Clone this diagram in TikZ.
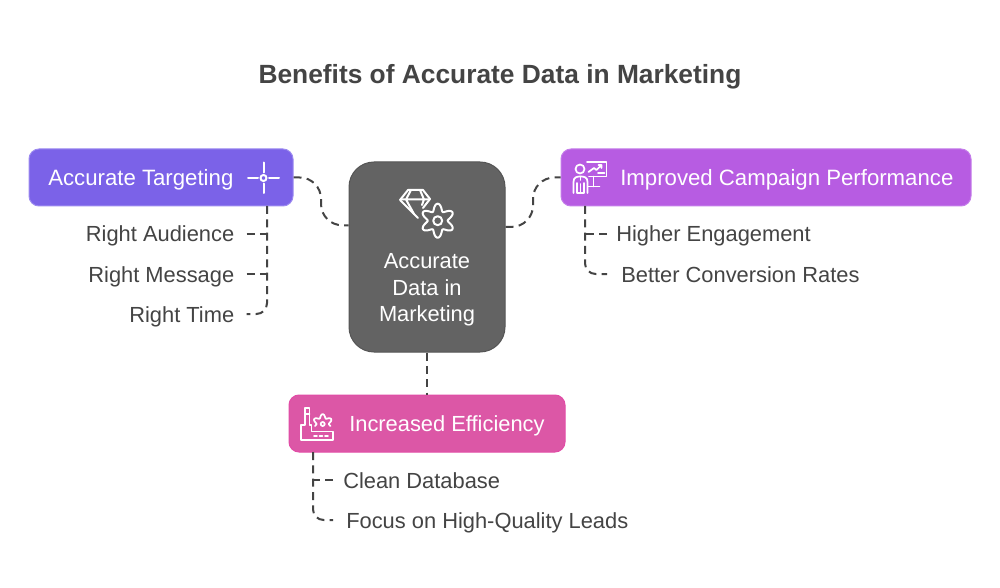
\documentclass[tikz,border=0pt]{standalone}
\usepackage{fontspec}
\setmainfont{Liberation Sans}
\usetikzlibrary{calc}
\definecolor{ink}{HTML}{444444}
\definecolor{cA}{HTML}{7B62E8}
\definecolor{cAb}{HTML}{9C8AF0}
\definecolor{cB}{HTML}{B75CE2}
\definecolor{cBb}{HTML}{C47DEA}
\definecolor{cC}{HTML}{DC57A6}
\definecolor{cCb}{HTML}{E24CA6}
\definecolor{cM}{HTML}{636363}
\definecolor{cMb}{HTML}{555555}
\tikzset{
  box/.style={draw=#1b,fill=#1,line width=0.75pt,rounded corners=7.5pt,minimum height=42.75pt,inner sep=0pt},
  mid/.style={draw=cMb,fill=cM,line width=0.75pt,rounded corners=18.75pt,minimum width=117pt,minimum height=142.5pt,inner sep=0pt},
  txt/.style={font=\fontsize{16.4pt}{20pt}\selectfont,text height=15.5pt,text depth=3.5pt,inner ysep=0pt,inner xsep=0pt},
  boxtext/.style={txt,text=white,anchor=west},
  widetext/.style={boxtext,font=\fontsize{16.65pt}{20pt}\selectfont},
  leftlabel/.style={txt,text=ink,anchor=east,inner xsep=#1},
  rightlabel/.style={txt,text=ink,anchor=west,inner xsep=#1},
  midtext/.style={font=\fontsize{16.4pt}{20pt}\selectfont,text=white,align=center,inner sep=0pt},
  title/.style={font=\bfseries\fontsize{19.75pt}{24pt}\selectfont,text=ink,inner sep=0pt},
  link/.style={draw=ink,line width=1.5pt,dash pattern=on 6pt off 4pt},
  curve/.style={link,rounded corners=16pt},
  turn/.style={link,rounded corners=8pt},
  icon/.style={draw=white,line width=1.5pt,line cap=round,line join=round},
  thinicon/.style={icon,line width=1.3pt},
}
\begin{document}
\begin{tikzpicture}[x=0.75pt,y=-0.75pt]
\useasboundingbox (0,0) rectangle (1000,588);
\fill[white] (0,0) rectangle (1000,588);

\node[title] (t) at (500,76.5) {Benefits of Accurate Data in Marketing};

\node[box=cA,minimum width=198pt] (a) at (161,177.5) {};
\node[box=cB,minimum width=307.5pt] (b) at (766,177.5) {};
\node[box=cC,minimum width=207pt] (c) at (427,423.5) {};
\node[mid] (m) at (427,257) {};

\node[widetext] (at) at (48,177.5) {Accurate Targeting};
\node[widetext] (bt) at (620,177.5) {Improved Campaign Performance};
\node[boxtext] (ct) at (349,423.5) {Increased Efficiency};
\node[midtext] (mt) at (427,290) {Accurate\\Data in\\Marketing};

\node[leftlabel=9pt] (a1) at (246.5,234) {Right Audience};
\node[leftlabel=9pt] (a2) at (246.5,274) {Right Message};
\node[leftlabel=9pt] (a3) at (246.5,314) {Right Time};
\node[rightlabel=6.75pt] (b1) at (607,234) {Higher Engagement};
\node[rightlabel=10.5pt] (b2) at (607,274) {Better Conversion Rates};
\node[rightlabel=7.5pt] (c1) at (333,480) {Clean Database};
\node[rightlabel=9.75pt] (c2) at (333,520) {Focus on High-Quality Leads};

\coordinate (atop) at (267,206);
\coordinate (btop) at (585,206);
\coordinate (ctop) at (313,452);
\coordinate (lbend) at ($(a.east)!0.5!(m.158.3)$);
\coordinate (rbend) at ($(m.21.7)!0.5!(b.west)$);

% links to the centre
\draw[curve] (a.east) -| (lbend |- m.158.3) -- (m.158.3);
\draw[curve] (m.21.7) -| (rbend |- b.west) -- (b.west);
\draw[link] (m.south) -- (c.north);

% trunks and branches
\draw[turn] (atop) |- (a3.east);
\draw[link] (a1.east) -- (a1.east -| atop);
\draw[link] (a2.east) -- (a2.east -| atop);
\draw[turn] (btop) |- (b2.west);
\draw[link] (b1.west) -- (b1.west -| btop);
\draw[turn] (ctop) |- (c2.west);
\draw[link] (c1.west) -- (c1.west -| ctop);

% crosshair icon
\draw[icon] (263.5,178) circle (3);
\draw[icon] (248,178) -- (258,178) (269,178) -- (279,178) (263.5,162.5) -- (263.5,172.5) (263.5,183.5) -- (263.5,193);

% diamond and gear icon
\draw[icon] (423,208) -- (430,199) -- (423,190) -- (408,190) -- (400,200) -- (418,218);
\draw[icon] (401,199.5) -- (429,199.5) (411,190) -- (406,199.5) -- (414,214) (420,190) -- (424,199.5) -- (422,205);
\draw[icon] plot[domain=0:360,samples=121,smooth] ({437.7+(13.5-3.5*cos(6*\x))*cos(\x)},{220.7+(13.5-3.5*cos(6*\x))*sin(\x)}) -- cycle;
\draw[icon] (437.7,220.7) circle (4.5);

% presenter icon
\draw[thinicon] (580,169) circle (4.5);
\draw[thinicon] (573.5,193) -- (573.5,182) .. controls (573.5,177) and (577,176.5) .. (580.5,176.5) .. controls (584,176.5) and (587.5,177) .. (587.5,182) -- (587.5,193);
\draw[thinicon] (577,193) -- (577,183) (584,193) -- (584,183) (577,193) -- (584,193) (580.5,193) -- (580.5,184) (580.5,176.5) -- (580.5,180);
\draw[thinicon] (587,162) -- (606.5,162) -- (606.5,176.5) -- (589,176.5);
\draw[thinicon] (593.5,176.5) -- (593.5,186.5) (588.5,186.5) -- (599.5,186.5);
\draw[thinicon] (588.5,172) -- (594,168) -- (596.5,170) -- (601.5,165) (598.5,165) -- (601.5,165) -- (601.5,168) (598,173) -- (604.5,173);

% factory icon
\draw[thinicon] (305,425) -- (305,408) -- (309.5,408) -- (309.5,425) -- (311.5,425) -- (311.5,431.5) -- (333,431.5) -- (333,440) -- (301,440) -- (301,425) -- (305,425);
\draw[thinicon] (305,414) -- (309.5,414);
\draw[thinicon] plot[domain=165:375,samples=61,smooth] ({322.7+(8-1.8*cos(6*\x))*cos(\x)},{424+(8-1.8*cos(6*\x))*sin(\x)});
\draw[thinicon] (322.7,424) circle (2);
\draw[thinicon] (314,436) -- (317,436) (319.5,436) -- (322.5,436) (325,436) -- (328,436);
\end{tikzpicture}
\end{document}
